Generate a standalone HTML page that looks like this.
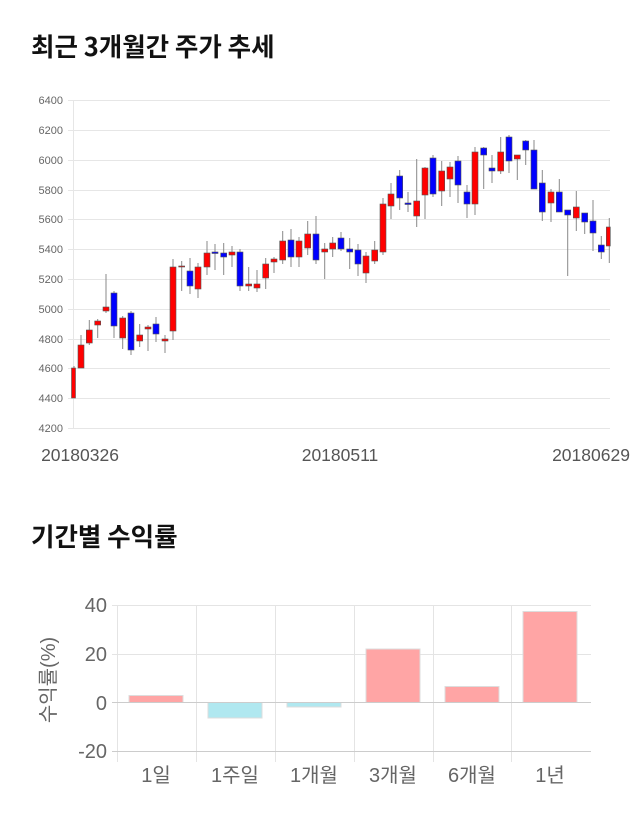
<!DOCTYPE html>
<html><head><meta charset="utf-8"><style>
body{margin:0;background:#fff;width:640px;height:810px;overflow:hidden;font-family:"Liberation Sans","Noto Sans CJK KR",sans-serif}
</style></head><body>
<svg width="640" height="810" xmlns="http://www.w3.org/2000/svg" font-family="Liberation Sans, Noto Sans CJK KR, sans-serif">
<text x="31" y="56" font-size="25.5" font-weight="bold" fill="#111" font-family="Noto Sans CJK KR, sans-serif">최근 3개월간 주가 추세</text>
<g stroke="#e6e6e6" stroke-width="1">
<line x1="68" x2="610" y1="100.5" y2="100.5"/><line x1="68" x2="610" y1="130.5" y2="130.5"/><line x1="68" x2="610" y1="160.5" y2="160.5"/><line x1="68" x2="610" y1="190.5" y2="190.5"/><line x1="68" x2="610" y1="219.5" y2="219.5"/><line x1="68" x2="610" y1="249.5" y2="249.5"/><line x1="68" x2="610" y1="279.5" y2="279.5"/><line x1="68" x2="610" y1="309.5" y2="309.5"/><line x1="68" x2="610" y1="339.5" y2="339.5"/><line x1="68" x2="610" y1="368.5" y2="368.5"/><line x1="68" x2="610" y1="398.5" y2="398.5"/><line x1="68" x2="610" y1="428.5" y2="428.5"/>
<line x1="73.5" x2="73.5" y1="100" y2="428"/>
</g>
<g font-size="11" fill="#666" text-anchor="end">
<text x="63" y="104">6400</text><text x="63" y="134">6200</text><text x="63" y="164">6000</text><text x="63" y="194">5800</text><text x="63" y="223">5600</text><text x="63" y="253">5400</text><text x="63" y="283">5200</text><text x="63" y="313">5000</text><text x="63" y="343">4800</text><text x="63" y="372">4600</text><text x="63" y="402">4400</text><text x="63" y="432">4200</text>
</g>
<g font-size="17.5" fill="#555" text-anchor="middle">
<text x="80" y="461">20180326</text><text x="340" y="461">20180511</text><text x="591" y="461">20180629</text>
</g>
<g stroke="#888" stroke-width="1">
<line x1="74" x2="74" y1="366" y2="398"/><line x1="81" x2="81" y1="335" y2="368"/><line x1="89.3" x2="89.3" y1="320" y2="345"/><line x1="97.7" x2="97.7" y1="319" y2="338"/><line x1="106" x2="106" y1="274" y2="313"/><line x1="114" x2="114" y1="291" y2="338"/><line x1="122.7" x2="122.7" y1="316" y2="349"/><line x1="131" x2="131" y1="311" y2="355"/><line x1="139.7" x2="139.7" y1="324" y2="347"/><line x1="148" x2="148" y1="325" y2="351"/><line x1="156" x2="156" y1="317" y2="342"/><line x1="165" x2="165" y1="335" y2="353"/><line x1="173" x2="173" y1="259" y2="340"/><line x1="181.7" x2="181.7" y1="261" y2="291"/><line x1="190" x2="190" y1="258" y2="294"/><line x1="198" x2="198" y1="263" y2="298"/><line x1="207" x2="207" y1="241" y2="275"/><line x1="215" x2="215" y1="244" y2="270"/><line x1="223.7" x2="223.7" y1="243" y2="275"/><line x1="232" x2="232" y1="246" y2="267"/><line x1="240" x2="240" y1="249" y2="291"/><line x1="248.7" x2="248.7" y1="267" y2="291"/><line x1="257" x2="257" y1="270" y2="292"/><line x1="265.7" x2="265.7" y1="258" y2="289"/><line x1="274" x2="274" y1="257" y2="273"/><line x1="282.7" x2="282.7" y1="231" y2="264"/><line x1="291" x2="291" y1="229" y2="267"/><line x1="299" x2="299" y1="237" y2="267"/><line x1="307.7" x2="307.7" y1="221" y2="255"/><line x1="316" x2="316" y1="216" y2="264"/><line x1="324.7" x2="324.7" y1="243" y2="279"/><line x1="332.7" x2="332.7" y1="237" y2="257"/>
<line x1="341" x2="341" y1="232" y2="251"/><line x1="349.7" x2="349.7" y1="238" y2="269"/><line x1="358" x2="358" y1="244" y2="276"/><line x1="366" x2="366" y1="252" y2="283"/><line x1="374.7" x2="374.7" y1="241" y2="264"/><line x1="383" x2="383" y1="198" y2="255"/><line x1="391" x2="391" y1="183" y2="219"/><line x1="399.7" x2="399.7" y1="170" y2="210"/><line x1="408" x2="408" y1="192" y2="212"/><line x1="416.7" x2="416.7" y1="159" y2="227"/><line x1="425" x2="425" y1="167" y2="219"/><line x1="433" x2="433" y1="155" y2="197"/><line x1="441.7" x2="441.7" y1="161" y2="206"/><line x1="450" x2="450" y1="162" y2="197"/><line x1="458" x2="458" y1="156" y2="203"/><line x1="467" x2="467" y1="185" y2="218"/><line x1="475" x2="475" y1="147" y2="215"/><line x1="483.7" x2="483.7" y1="147" y2="189"/><line x1="492" x2="492" y1="155" y2="183"/><line x1="500.7" x2="500.7" y1="137" y2="174"/><line x1="509" x2="509" y1="135" y2="173"/><line x1="517.3" x2="517.3" y1="155" y2="180"/><line x1="525.7" x2="525.7" y1="140" y2="165"/><line x1="534" x2="534" y1="140" y2="189"/><line x1="542.3" x2="542.3" y1="170" y2="221"/><line x1="551" x2="551" y1="189" y2="222"/><line x1="559.3" x2="559.3" y1="179" y2="212"/><line x1="567.7" x2="567.7" y1="210" y2="276"/><line x1="576.3" x2="576.3" y1="191" y2="231"/><line x1="584.7" x2="584.7" y1="213" y2="234"/><line x1="593" x2="593" y1="200" y2="251"/><line x1="601.3" x2="601.3" y1="236" y2="259"/><line x1="609.3" x2="609.3" y1="218" y2="263"/>
</g>
<g stroke="#555" stroke-width="0.6">
<g fill="#f00">
<rect x="71.5" y="368" width="4" height="30"/><rect x="78" y="345" width="6" height="23"/><rect x="86.3" y="330" width="6" height="13"/><rect x="94.7" y="321" width="6" height="4"/><rect x="103" y="307" width="6" height="4"/><rect x="119.7" y="318" width="6" height="20"/><rect x="136.7" y="335" width="6" height="6"/><rect x="145" y="327" width="6" height="2"/><rect x="162" y="339" width="6" height="2"/><rect x="170" y="267" width="6" height="64"/><rect x="178.7" y="266" width="6" height="1"/><rect x="195" y="267" width="6" height="22"/><rect x="204" y="253" width="6" height="14"/><rect x="229" y="252" width="6" height="3"/><rect x="245.7" y="284" width="6" height="2"/><rect x="254" y="284" width="6" height="4"/><rect x="262.7" y="264" width="6" height="14"/><rect x="271" y="259" width="6" height="3"/><rect x="279.7" y="241" width="6" height="19"/><rect x="296" y="241" width="6" height="16"/><rect x="304.7" y="234" width="6" height="14"/><rect x="321.7" y="249" width="6" height="3"/><rect x="329.7" y="243" width="6" height="6"/>
<rect x="363" y="256" width="6" height="17"/><rect x="371.7" y="250" width="6" height="11"/><rect x="380" y="204" width="6" height="48"/><rect x="388" y="194" width="6" height="12"/><rect x="413.7" y="201" width="6" height="15"/><rect x="422" y="168" width="6" height="27"/><rect x="438.7" y="171" width="6" height="20"/><rect x="447" y="167" width="6" height="12"/><rect x="472" y="152" width="6" height="52"/><rect x="497.7" y="152" width="6" height="19"/><rect x="514.3" y="155" width="6" height="4"/><rect x="548" y="192" width="6" height="11"/><rect x="573.3" y="207" width="6" height="11"/><rect x="606.3" y="227" width="4" height="19"/>
</g>
<g fill="#00f">
<rect x="111" y="293" width="6" height="33"/><rect x="128" y="313" width="6" height="37"/><rect x="153" y="324" width="6" height="10"/><rect x="187" y="271" width="6" height="15"/><rect x="212" y="252" width="6" height="1.5"/><rect x="220.7" y="253" width="6" height="4"/><rect x="237" y="252" width="6" height="34"/><rect x="288" y="240" width="6" height="17"/><rect x="313" y="234" width="6" height="26"/>
<rect x="338" y="238" width="6" height="11"/><rect x="346.7" y="249" width="6" height="3"/><rect x="355" y="250" width="6" height="14"/><rect x="396.7" y="176" width="6" height="22"/><rect x="405" y="203" width="6" height="1.5"/><rect x="430" y="158" width="6" height="36"/><rect x="455" y="161" width="6" height="24"/><rect x="464" y="192" width="6" height="12"/><rect x="480.7" y="148" width="6" height="7"/><rect x="489" y="168" width="6" height="3"/><rect x="506" y="137" width="6" height="24"/><rect x="522.7" y="141" width="6" height="9"/><rect x="531" y="150" width="6" height="39"/><rect x="539.3" y="183" width="6" height="29"/><rect x="556.3" y="192" width="6" height="20"/><rect x="564.7" y="210" width="6" height="5"/><rect x="581.7" y="213" width="6" height="9"/><rect x="590" y="221" width="6" height="12"/><rect x="598.3" y="245" width="6" height="7"/>
</g></g>
<rect x="611" y="90" width="29" height="350" fill="#fff"/>
<text x="31" y="546" font-size="25.5" font-weight="bold" fill="#111" font-family="Noto Sans CJK KR, sans-serif">기간별 수익률</text>
<g stroke="#e4e4e4" stroke-width="1">
<line x1="112" x2="591" y1="605.5" y2="605.5"/><line x1="112" x2="591" y1="654.5" y2="654.5"/>
<line x1="117.5" x2="117.5" y1="605" y2="762"/><line x1="196.5" x2="196.5" y1="605" y2="762"/><line x1="275.5" x2="275.5" y1="605" y2="762"/><line x1="354.5" x2="354.5" y1="605" y2="762"/><line x1="433.5" x2="433.5" y1="605" y2="762"/><line x1="511.5" x2="511.5" y1="605" y2="762"/>
</g>
<line x1="112" x2="591" y1="751.5" y2="751.5" stroke="#ccc"/>
<g stroke="#ddd" stroke-width="1">
<rect x="129" y="695.5" width="54" height="7" fill="#ffa5a5"/>
<rect x="208" y="702.5" width="54" height="15.5" fill="#b0e8f0"/>
<rect x="287" y="702.5" width="54" height="4.5" fill="#b0e8f0"/>
<rect x="366" y="649" width="54" height="53.5" fill="#ffa5a5"/>
<rect x="445" y="686.5" width="54" height="16" fill="#ffa5a5"/>
<rect x="523" y="611.5" width="54" height="91" fill="#ffa5a5"/>
</g>
<line x1="112" x2="591" y1="702.5" y2="702.5" stroke="#ccc"/>
<g font-size="20" fill="#666" text-anchor="end">
<text x="107" y="612">40</text><text x="107" y="661">20</text><text x="107" y="710">0</text><text x="107" y="758">-20</text>
</g>
<text transform="translate(55,680) rotate(-90)" font-size="20" fill="#666" text-anchor="middle">수익률(%)</text>
<g font-size="20" fill="#666" text-anchor="middle">
<text x="156" y="782">1일</text><text x="235" y="782">1주일</text><text x="314" y="782">1개월</text><text x="393" y="782">3개월</text><text x="472" y="782">6개월</text><text x="550" y="782">1년</text>
</g>
</svg>
</body></html>
